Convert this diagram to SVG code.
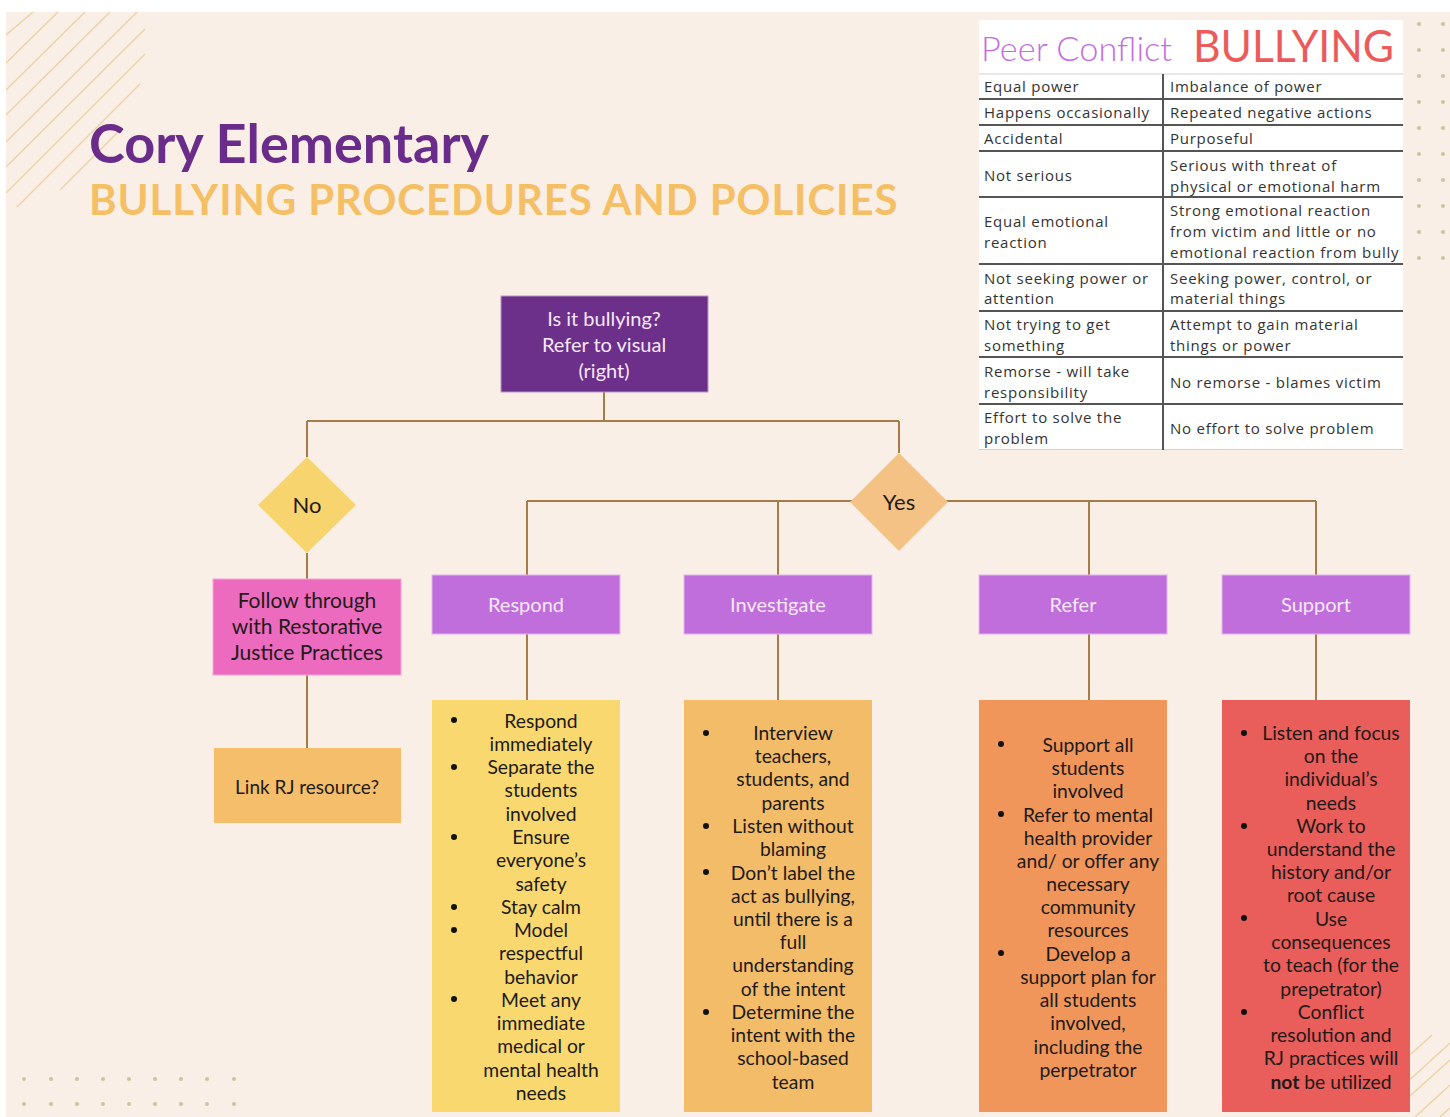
<svg xmlns="http://www.w3.org/2000/svg" width="1450" height="1117" viewBox="0 0 1450 1117">
<style>
.bg{fill:#F9EFE6}
.stripe{stroke:#EDD2A6;stroke-width:1.4;fill:none}
.dot{fill:#CBC49C}
.conn{stroke:#A57D48;stroke-width:2;fill:none}
.cell{font-family:"Open Sans","Noto Sans",sans-serif;font-size:15px;letter-spacing:0.75px;fill:#333}
.rule{stroke:#555;stroke-width:2}
.light{stroke:#D0D0D0;stroke-width:1}
.hdr{font-family:Lato,"Open Sans",sans-serif;font-size:20px;fill:#F6E8F9;text-anchor:middle}
.body{font-family:Lato,"Open Sans",sans-serif;font-size:19.3px;fill:#1E1A18;text-anchor:middle}
.dark{font-family:Lato,"Open Sans",sans-serif;fill:#1E1A18;text-anchor:middle}
.bul{fill:#111}
</style>
<rect x="0" y="0" width="1450" height="1117" fill="#FFFFFF"/>
<rect class="bg" x="6" y="12" width="1444" height="1105"/>

<g id="decor">
  <line class="stripe" x1="6" y1="35" x2="33" y2="12"/>
  <line class="stripe" x1="6" y1="63" x2="58" y2="12"/>
  <line class="stripe" x1="6" y1="90" x2="85" y2="12"/>
  <line class="stripe" x1="6" y1="115" x2="110" y2="12"/>
  <line class="stripe" x1="6" y1="142" x2="137" y2="12"/>
  <line class="stripe" x1="6" y1="167" x2="145" y2="29"/>
  <line class="stripe" x1="6" y1="193" x2="145" y2="54"/>
  <line class="stripe" x1="17" y1="207" x2="140" y2="84"/>
  <line class="stripe" x1="60" y1="190" x2="120" y2="130"/>
  <line class="stripe" x1="1410" y1="1055" x2="1432" y2="1035"/>
  <line class="stripe" x1="1404" y1="1085" x2="1450" y2="1043"/>
  <line class="stripe" x1="1392" y1="1112" x2="1450" y2="1060"/>
  <line class="stripe" x1="1415" y1="1117" x2="1450" y2="1085"/>
  <line class="stripe" x1="1440" y1="1117" x2="1450" y2="1108"/>
  <g id="dots-right">
    <circle class="dot" cx="1419" cy="24" r="2"/><circle class="dot" cx="1443" cy="24" r="2"/>
    <circle class="dot" cx="1419" cy="50" r="2"/><circle class="dot" cx="1443" cy="50" r="2"/>
    <circle class="dot" cx="1419" cy="76" r="2"/><circle class="dot" cx="1443" cy="76" r="2"/>
    <circle class="dot" cx="1419" cy="102" r="2"/><circle class="dot" cx="1443" cy="102" r="2"/>
    <circle class="dot" cx="1419" cy="128" r="2"/><circle class="dot" cx="1443" cy="128" r="2"/>
    <circle class="dot" cx="1419" cy="154" r="2"/><circle class="dot" cx="1443" cy="154" r="2"/>
    <circle class="dot" cx="1419" cy="180" r="2"/><circle class="dot" cx="1443" cy="180" r="2"/>
    <circle class="dot" cx="1419" cy="206" r="2"/><circle class="dot" cx="1443" cy="206" r="2"/>
    <circle class="dot" cx="1419" cy="232" r="2"/><circle class="dot" cx="1443" cy="232" r="2"/>
    <circle class="dot" cx="1419" cy="258" r="2"/><circle class="dot" cx="1443" cy="258" r="2"/>
  </g>
  <g id="dots-left">
    <circle class="dot" cx="24" cy="1079" r="2"/><circle class="dot" cx="51" cy="1079" r="2"/><circle class="dot" cx="77" cy="1079" r="2"/><circle class="dot" cx="103" cy="1079" r="2"/><circle class="dot" cx="129" cy="1079" r="2"/><circle class="dot" cx="155" cy="1079" r="2"/><circle class="dot" cx="181" cy="1079" r="2"/><circle class="dot" cx="207" cy="1079" r="2"/><circle class="dot" cx="234" cy="1079" r="2"/>
    <circle class="dot" cx="24" cy="1104" r="2"/><circle class="dot" cx="51" cy="1104" r="2"/><circle class="dot" cx="77" cy="1104" r="2"/><circle class="dot" cx="103" cy="1104" r="2"/><circle class="dot" cx="129" cy="1104" r="2"/><circle class="dot" cx="155" cy="1104" r="2"/><circle class="dot" cx="181" cy="1104" r="2"/><circle class="dot" cx="207" cy="1104" r="2"/><circle class="dot" cx="234" cy="1104" r="2"/>
  </g>
</g>

<g id="title">
  <text x="89" y="163" font-family="Lato,'Open Sans',sans-serif" font-weight="700" font-size="53" fill="#6A2C8A" textLength="400" lengthAdjust="spacingAndGlyphs">Cory Elementary</text>
  <text x="89" y="215" font-family="Lato,'Open Sans',sans-serif" font-weight="700" font-size="42" fill="#F5BF65" letter-spacing="1.5" textLength="810" lengthAdjust="spacing">BULLYING PROCEDURES AND POLICIES</text>
</g>

<g id="comparison-table">
  <rect x="979" y="20" width="424" height="430" fill="#FFFFFF"/>
  <text x="981" y="61" font-family="Lato,'Open Sans',sans-serif" font-weight="300" font-size="34" fill="#C36EDF" textLength="191" lengthAdjust="spacingAndGlyphs">Peer Conflict</text>
  <text x="1193" y="62" font-family="Lato,'Open Sans',sans-serif" font-size="44" fill="#EC5B5B" textLength="201" lengthAdjust="spacingAndGlyphs">BULLYING</text>
  <line class="light" x1="979" y1="74" x2="1403" y2="74"/>
  <line class="light" x1="979" y1="449.5" x2="1403" y2="449.5"/>
  <line class="rule" x1="1163" y1="74" x2="1163" y2="450"/>
  <line class="rule" x1="979" y1="99" x2="1403" y2="99"/>
  <line class="rule" x1="979" y1="125" x2="1403" y2="125"/>
  <line class="rule" x1="979" y1="151" x2="1403" y2="151"/>
  <line class="rule" x1="979" y1="197" x2="1403" y2="197"/>
  <line class="rule" x1="979" y1="264" x2="1403" y2="264"/>
  <line class="rule" x1="979" y1="311" x2="1403" y2="311"/>
  <line class="rule" x1="979" y1="357" x2="1403" y2="357"/>
  <line class="rule" x1="979" y1="404" x2="1403" y2="404"/>
  <g class="cell">
    <text x="984" y="92">Equal power</text>
    <text x="1170" y="92">Imbalance of power</text>
    <text x="984" y="118">Happens occasionally</text>
    <text x="1170" y="118">Repeated negative actions</text>
    <text x="984" y="144">Accidental</text>
    <text x="1170" y="144">Purposeful</text>
    <text x="984" y="181">Not serious</text>
    <text x="1170" y="171">Serious with threat of</text>
    <text x="1170" y="192">physical or emotional harm</text>
    <text x="984" y="227">Equal emotional</text>
    <text x="984" y="248">reaction</text>
    <text x="1170" y="216">Strong emotional reaction</text>
    <text x="1170" y="237">from victim and little or no</text>
    <text x="1170" y="258">emotional reaction from bully</text>
    <text x="984" y="284">Not seeking power or</text>
    <text x="984" y="304">attention</text>
    <text x="1170" y="284">Seeking power, control, or</text>
    <text x="1170" y="304">material things</text>
    <text x="984" y="330">Not trying to get</text>
    <text x="984" y="351">something</text>
    <text x="1170" y="330">Attempt to gain material</text>
    <text x="1170" y="351">things or power</text>
    <text x="984" y="377">Remorse - will take</text>
    <text x="984" y="398">responsibility</text>
    <text x="1170" y="388">No remorse - blames victim</text>
    <text x="984" y="423">Effort to solve the</text>
    <text x="984" y="444">problem</text>
    <text x="1170" y="434">No effort to solve problem</text>
  </g>
</g>

<g id="connectors">
  <path class="conn" d="M604 392 V421 M307 421 H899 M307 421 V457 M899 421 V453"/>
  <path class="conn" d="M307 553 V579 M307 675 V748"/>
  <path class="conn" d="M527 501 H1316 M527 501 V575 M778 501 V575 M1089 501 V575 M1316 501 V575"/>
  <path class="conn" d="M527 634 V700 M778 634 V700 M1089 634 V700 M1316 634 V700"/>
</g>

<g id="question">
  <rect x="501" y="296" width="207" height="96" fill="#6C2F8A" stroke="#B996C8" stroke-width="1"/>
  <text class="hdr" x="604" y="326">Is it bullying?</text>
  <text class="hdr" x="604" y="352">Refer to visual</text>
  <text class="hdr" x="604" y="378">(right)</text>
</g>

<g id="no">
  <polygon points="307,457 356,505 307,553 258,505" fill="#F7D46E"/>
  <text class="dark" x="307" y="513" font-size="22">No</text>
</g>

<g id="yes">
  <polygon points="899,453 948,502 899,551 850,502" fill="#F5C286"/>
  <text class="dark" x="899" y="510" font-size="22">Yes</text>
</g>

<g id="restorative">
  <rect x="213" y="579" width="188" height="96" fill="#EC6BBF" stroke="#F4A7D8" stroke-width="1"/>
  <text class="dark" x="307" y="608" font-size="21">Follow through</text>
  <text class="dark" x="307" y="634" font-size="21">with Restorative</text>
  <text class="dark" x="307" y="660" font-size="21">Justice Practices</text>
</g>

<g id="link-rj">
  <rect x="214" y="748" width="187" height="75" fill="#F4BE6A"/>
  <text class="dark" x="307" y="794" font-size="19">Link RJ resource?</text>
</g>

<g id="respond">
  <rect x="432" y="575" width="188" height="59" fill="#C06EDC" stroke="#E2B4EE" stroke-width="1"/>
  <text class="hdr" x="526" y="612">Respond</text>
</g>
<g id="investigate">
  <rect x="684" y="575" width="188" height="59" fill="#C06EDC" stroke="#E2B4EE" stroke-width="1"/>
  <text class="hdr" x="778" y="612">Investigate</text>
</g>
<g id="refer">
  <rect x="979" y="575" width="188" height="59" fill="#C06EDC" stroke="#E2B4EE" stroke-width="1"/>
  <text class="hdr" x="1073" y="612">Refer</text>
</g>
<g id="support">
  <rect x="1222" y="575" width="188" height="59" fill="#C06EDC" stroke="#E2B4EE" stroke-width="1"/>
  <text class="hdr" x="1316" y="612">Support</text>
</g>

<g id="respond-list">
  <rect x="432" y="700" width="188" height="412" fill="#F9D96F"/>
  <circle class="bul" cx="454" cy="720" r="3"/>
  <circle class="bul" cx="454" cy="767" r="3"/>
  <circle class="bul" cx="454" cy="837" r="3"/>
  <circle class="bul" cx="454" cy="907" r="3"/>
  <circle class="bul" cx="454" cy="930" r="3"/>
  <circle class="bul" cx="454" cy="999" r="3"/>
  <g class="body">
    <text x="541" y="728">Respond</text>
    <text x="541" y="751">immediately</text>
    <text x="541" y="774">Separate the</text>
    <text x="541" y="797">students</text>
    <text x="541" y="821">involved</text>
    <text x="541" y="844">Ensure</text>
    <text x="541" y="867">everyone’s</text>
    <text x="541" y="891">safety</text>
    <text x="541" y="914">Stay calm</text>
    <text x="541" y="937">Model</text>
    <text x="541" y="960">respectful</text>
    <text x="541" y="984">behavior</text>
    <text x="541" y="1007">Meet any</text>
    <text x="541" y="1030">immediate</text>
    <text x="541" y="1053">medical or</text>
    <text x="541" y="1077">mental health</text>
    <text x="541" y="1100">needs</text>
  </g>
</g>

<g id="investigate-list">
  <rect x="684" y="700" width="188" height="412" fill="#F3BC68"/>
  <circle class="bul" cx="706" cy="733" r="3"/>
  <circle class="bul" cx="706" cy="826" r="3"/>
  <circle class="bul" cx="706" cy="872" r="3"/>
  <circle class="bul" cx="706" cy="1012" r="3"/>
  <g class="body">
    <text x="793" y="740">Interview</text>
    <text x="793" y="763">teachers,</text>
    <text x="793" y="786">students, and</text>
    <text x="793" y="810">parents</text>
    <text x="793" y="833">Listen without</text>
    <text x="793" y="856">blaming</text>
    <text x="793" y="880">Don’t label the</text>
    <text x="793" y="903">act as bullying,</text>
    <text x="793" y="926">until there is a</text>
    <text x="793" y="949">full</text>
    <text x="793" y="972">understanding</text>
    <text x="793" y="996">of the intent</text>
    <text x="793" y="1019">Determine the</text>
    <text x="793" y="1042">intent with the</text>
    <text x="793" y="1065">school-based</text>
    <text x="793" y="1089">team</text>
  </g>
</g>

<g id="refer-list">
  <rect x="979" y="700" width="188" height="412" fill="#F0965A"/>
  <circle class="bul" cx="1001" cy="744" r="3"/>
  <circle class="bul" cx="1001" cy="814" r="3"/>
  <circle class="bul" cx="1001" cy="953" r="3"/>
  <g class="body">
    <text x="1088" y="752">Support all</text>
    <text x="1088" y="775">students</text>
    <text x="1088" y="798">involved</text>
    <text x="1088" y="822">Refer to mental</text>
    <text x="1088" y="845">health provider</text>
    <text x="1088" y="868">and/ or offer any</text>
    <text x="1088" y="891">necessary</text>
    <text x="1088" y="914">community</text>
    <text x="1088" y="937">resources</text>
    <text x="1088" y="961">Develop a</text>
    <text x="1088" y="984">support plan for</text>
    <text x="1088" y="1007">all students</text>
    <text x="1088" y="1030">involved,</text>
    <text x="1088" y="1054">including the</text>
    <text x="1088" y="1077">perpetrator</text>
  </g>
</g>

<g id="support-list">
  <rect x="1222" y="700" width="188" height="412" fill="#E95D5A"/>
  <circle class="bul" cx="1244" cy="733" r="3"/>
  <circle class="bul" cx="1244" cy="826" r="3"/>
  <circle class="bul" cx="1244" cy="918" r="3"/>
  <circle class="bul" cx="1244" cy="1012" r="3"/>
  <g class="body">
    <text x="1331" y="740">Listen and focus</text>
    <text x="1331" y="763">on the</text>
    <text x="1331" y="786">individual’s</text>
    <text x="1331" y="810">needs</text>
    <text x="1331" y="833">Work to</text>
    <text x="1331" y="856">understand the</text>
    <text x="1331" y="879">history and/or</text>
    <text x="1331" y="902">root cause</text>
    <text x="1331" y="926">Use</text>
    <text x="1331" y="949">consequences</text>
    <text x="1331" y="972">to teach (for the</text>
    <text x="1331" y="996">prepetrator)</text>
    <text x="1331" y="1019">Conflict</text>
    <text x="1331" y="1042">resolution and</text>
    <text x="1331" y="1065">RJ practices will</text>
    <text x="1331" y="1089"><tspan font-weight="700">not</tspan> be utilized</text>
  </g>
</g>
</svg>
